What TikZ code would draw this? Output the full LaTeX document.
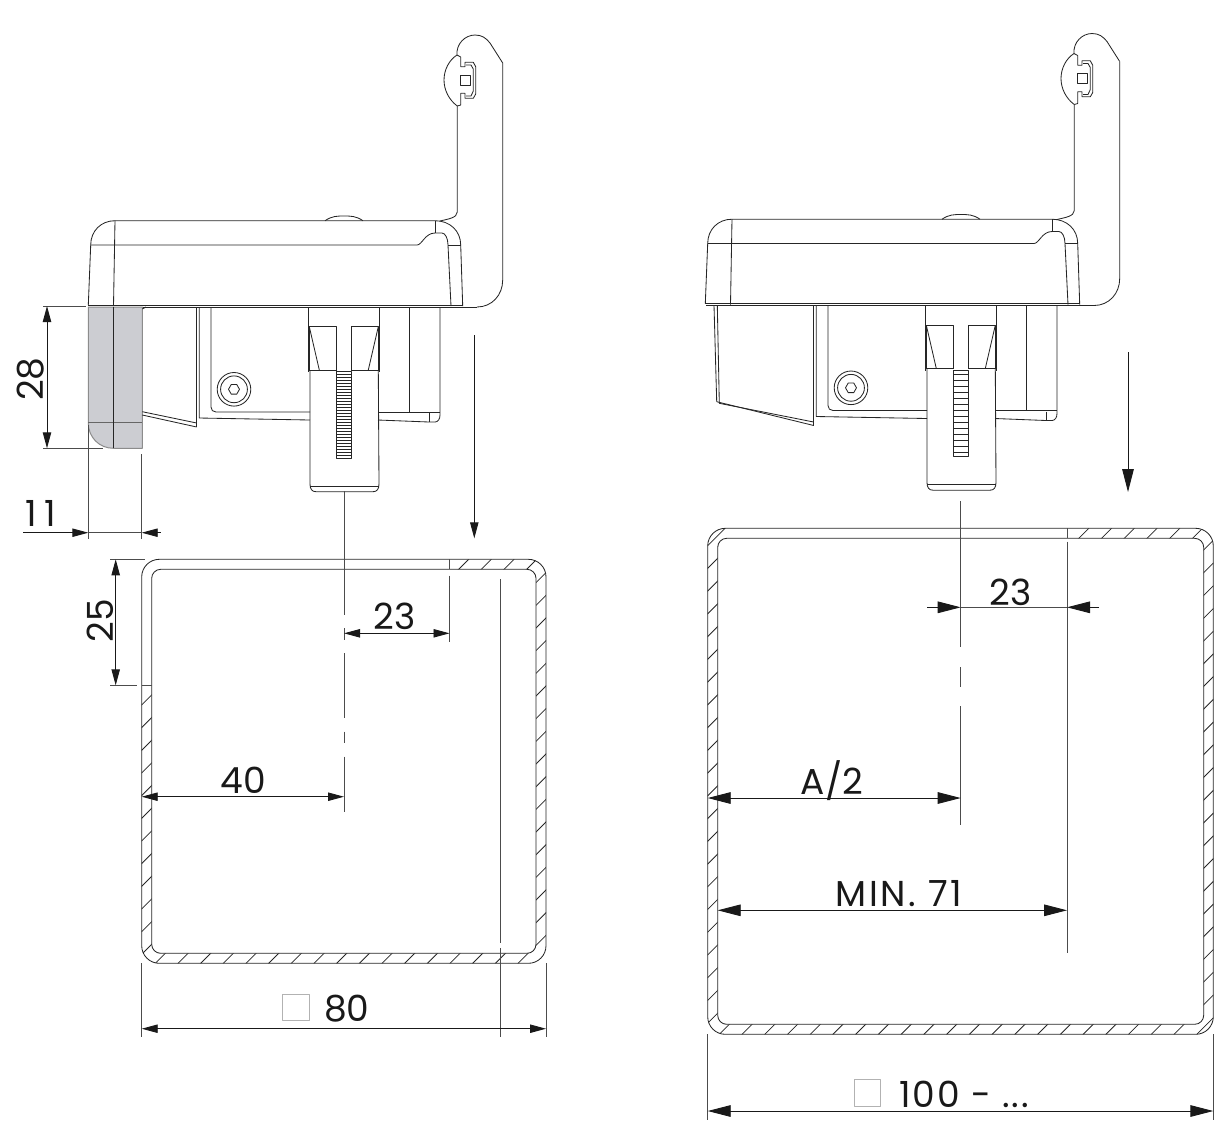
\documentclass[tikz,border=0pt]{standalone}
\usepackage{fontspec}
\setmainfont{Poppins}
\usetikzlibrary{arrows.meta}
\definecolor{latchgrey}{RGB}{204,205,210}

\begin{document}
\begin{tikzpicture}[
      x=0.5pt,
      y=-0.5pt,
      line join=round,
      part/.style={draw=black!85, line width=0.42pt},
      tube/.style={draw=black!85, line width=0.42pt},
      hatchline/.style={draw=black!85, line width=0.4pt},
      extline/.style={draw=black!70, line width=0.5pt},
      greybox/.style={fill=latchgrey, draw=black!45, line width=0.5pt},
      smalltip/.style={draw=black!90, line width=0.45pt, -{Triangle[length=8pt,width=4.2pt]}},
      bigtip/.style={draw=black!90, line width=0.45pt, -{Triangle[length=11.5pt,width=5.8pt]}},
      dimtext/.style={inner sep=0pt, anchor=base, font=\fontsize{18}{18}\selectfont, text=black!90},
      squaremark/.style={draw=black!30, line width=0.5pt},
      pics/latchunit/.style={code={
        % housing
        \draw[part] (88.3,305) -- (90.7,245) .. controls (90.7,231) and (101,220.7) .. (115,220.7) -- (435,220.7)
          .. controls (450,220.7) and (460.7,231) .. (460.7,245) -- (462.7,306);
        \draw[part] (88.3,305) -- (462.7,305);
        \draw[part] (89,307) -- (477,307);
        \draw[part] (115,220.7) -- (113.5,306);
        \draw[part] (90.7,245) -- (417,245) .. controls (422,245) and (425,233) .. (435,233) -- (442,233)
          .. controls (445,233) and (448,238) .. (448,245) -- (451,306);
        \draw[part] (448,245) -- (460.7,245);
        \draw[part] (435,220.7) -- (435,233);
        \draw[part] (325,220.7) .. controls (332,216) and (337,216) .. (344,216) .. controls (351,216) and (356,216) .. (363,220.7);
        % bracket and hook
        \draw[part] (440,221) .. controls (448,219) and (457,218) .. (457.3,212) -- (457.3,106);
        \draw[part] (502.7,63) -- (502.7,280) .. controls (502.7,295) and (492,307) .. (477,307);
        \draw[part] (457,55) .. controls (449,60) and (444,70) .. (444,80) .. controls (444,90) and (449,100) .. (457.3,106);
        \draw[part] (457,55) .. controls (456,44) and (465,35) .. (475,35) .. controls (482,35) and (486,38) .. (490,43) -- (502.7,63);
        \draw[part] (457,55) -- (460.7,57) -- (460.7,66.7) -- (465,66.7) -- (465,62.3) -- (473.3,62.3) -- (475.7,66.7)
          -- (475.7,94) -- (473.3,98.3) -- (465,98.3) -- (465,93.3) -- (460.7,93.3) -- (460.7,105) -- (457.3,106);
        \draw[part] (466,65) -- (471,65) -- (473.3,69) -- (473.3,91) -- (471,96) -- (466,96);
        \draw[part] (460.7,75) rectangle (470,85);
        % plate behind the clamp
        \draw[part] (196.7,307) -- (196.7,427);
        \draw[part] (199.3,307) -- (199.3,418) -- (310,420);
        \draw[part] (211,307) -- (211,407) .. controls (211,410) and (213,412) .. (216,412) -- (310,412);
        \draw[part] (378,412) -- (440,412);
        \draw[part] (378,420) -- (429,422) -- (435,422) .. controls (438,422) and (440,419) .. (440,415) -- (440,307);
        \draw[part] (409,307) -- (409,412);
        \draw[part] (429,413) -- (429,422);
        \draw[part] (234,389.3) circle[radius=8.4pt];
        \draw[part] (234,389.3) circle[radius=6.7pt];
        \draw[part] (239.5,389.3) -- (236.75,384.5) -- (231.25,384.5) -- (228.5,389.3) -- (231.25,394.1) -- (236.75,394.1) -- cycle;
        % clamp
        \draw[part] (308.3,307) -- (308.3,372);
        \draw[part] (379.3,307) -- (379.3,372);
        \draw[part] (309.3,370) -- (309.3,326.7) -- (336.7,326.7) -- (336.7,370);
        \draw[part] (351,370) -- (351,326.7) -- (378.3,326.7) -- (378.3,370);
        \draw[part] (309.3,326.7) -- (319.3,370);
        \draw[part] (378.3,326.7) -- (368.3,370);
        \draw[part] (308.3,370) -- (336.7,370);
        \draw[part] (351,370) -- (379.3,370);
        \draw[part] (310,370) -- (310,484) .. controls (310,489) and (312,491.7) .. (316,491.7) -- (373,491.7)
          .. controls (377,491.7) and (379,489) .. (379,484) -- (378.3,370);
        \draw[part] (310,486) -- (379,486);
        \draw[part] (336.7,371.7) rectangle (351,458.3);
        \foreach \ty in {#1} {
          \draw[part] (336.7,\ty) -- (351,\ty);
        }
      }}
    ]

  \useasboundingbox (0,0) rectangle (1216,1132);

  \pic at (0,0) {latchunit={374.7,377.7,...,458}};
  \pic at (617,-1.5) {latchunit={376,382,...,458}};

  % left unit: grey latch and flap
  \draw[greybox] (88.3,307) -- (142.3,307) -- (142.3,448.3) -- (113.5,448.3)
    .. controls (99,448.3) and (88.3,437) .. (88.3,423) -- cycle;
  \draw[greybox, draw=black!60] (88.3,422.7) -- (142.3,422.7);
  \draw[part] (113.5,307) -- (113.5,448.3);
  \draw[part] (142.3,309) -- (146,307);
  \draw[part] (142.3,411.7) -- (196.7,423);
  \draw[part] (142.3,415) -- (196.7,427);

  % right unit: open flap
  \draw[part] (714,305) -- (716.7,401.7) -- (813.7,425.5);
  \draw[part] (717.3,305) -- (719.3,403.3) -- (813.7,422);

  % left tube
  \begin{scope}
    \clip (130,685.3) -- (449.5,685.3) -- (449.5,550) -- (560,550) -- (560,975) -- (130,975) -- cycle;
    \begin{scope}[rounded corners=8.8pt]
      \clip (141.7,559.3) rectangle (546,963.3);
      \foreach \n in {0,...,29} {
        \draw[hatchline] ({846.6+22.67*\n-130},130) -- ({846.6+22.67*\n-1000},1000);
      }
    \end{scope}
  \end{scope}
  \fill[white, rounded corners=4.5pt] (151.7,569.3) rectangle (536,953.3);
  \draw[tube, rounded corners=8.8pt] (141.7,559.3) rectangle (546,963.3);
  \draw[tube, rounded corners=4.5pt] (151.7,569.3) rectangle (536,953.3);

  % right tube
  \begin{scope}
    \clip (700,520) -- (728,520) -- (728,550) -- (1067,550) -- (1067,520) -- (1225,520) -- (1225,1045) -- (700,1045) -- cycle;
    \begin{scope}[rounded corners=8.8pt]
      \clip (707.7,528.3) rectangle (1213.3,1034.3);
      \foreach \n in {0,...,45} {
        \draw[hatchline] ({1253.3+22.74*\n-500},500) -- ({1253.3+22.74*\n-1100},1100);
      }
    \end{scope}
  \end{scope}
  \fill[white, rounded corners=4.5pt] (717.7,538.3) rectangle (1203.7,1024.3);
  \draw[tube, rounded corners=8.8pt] (707.7,528.3) rectangle (1213.3,1034.3);
  \draw[tube, rounded corners=4.5pt] (717.7,538.3) rectangle (1203.7,1024.3);

  % left dimensions
  \draw[extline] (43,306) -- (86,306);
  \draw[extline] (43,448.3) -- (103,448.3);
  \draw[smalltip] (47,378) -- (47,306);
  \draw[smalltip] (47,378) -- (47,448.3);
  \node[dimtext, rotate=90] (dimtwentyeight) at (43,379) {28};

  \draw[extline] (88.3,425) -- (88.3,539);
  \draw[extline] (141.7,454) -- (141.7,539);
  \draw[smalltip] (23,532.7) -- (88.3,532.7);
  \draw[smalltip] (160.7,532.7) -- (141.7,532.7);
  \draw[extline] (88.3,532.7) -- (141.7,532.7);
  \node[dimtext] (dimeleven) at (41,526.7) {1\kern4pt 1};

  \draw[extline] (110,559.3) -- (145,559.3);
  \draw[extline] (110,685.3) -- (137,685.3);
  \draw[extline] (141.7,685.3) -- (151.7,685.3);
  \draw[smalltip] (115.7,622) -- (115.7,559.3);
  \draw[smalltip] (115.7,622) -- (115.7,685.3);
  \node[dimtext, rotate=90] (dimtwentyfive) at (113,621) {25};

  \draw[extline] (344,491) -- (344,615);
  \draw[extline] (344,628) -- (344,640);
  \draw[extline] (344,653) -- (344,718);
  \draw[extline] (344,731.7) -- (344,743);
  \draw[extline] (344,756.7) -- (344,811.7);
  \draw[extline] (449.5,559.3) -- (449.5,569.3);
  \draw[extline] (449.5,575.7) -- (449.5,641.7);
  \draw[smalltip] (397,633.3) -- (344,633.3);
  \draw[smalltip] (397,633.3) -- (449.5,633.3);
  \node[dimtext] (dimgapleft) at (394.5,629) {23};

  \draw[smalltip] (243,796.7) -- (141.7,796.7);
  \draw[smalltip] (243,796.7) -- (344,796.7);
  \node[dimtext] (dimforty) at (243,793) {40};

  \draw[extline] (500.7,579.3) -- (500.7,943);
  \draw[extline] (500.7,948) -- (500.7,1037);
  \draw[extline] (141.7,963.3) -- (141.7,1037);
  \draw[extline] (546,963.3) -- (546,1037);
  \draw[smalltip] (344,1028.7) -- (141.7,1028.7);
  \draw[smalltip] (344,1028.7) -- (546,1028.7);
  \draw[squaremark] (282.3,994.3) rectangle (309.3,1020);
  \node[dimtext] (dimeighty) at (346.7,1021.7) {80};

  \draw[smalltip] (474.3,335) -- (474.3,538.3);

  % right dimensions
  \draw[extline] (960.7,501) -- (960.7,647);
  \draw[extline] (960.7,667.3) -- (960.7,686.7);
  \draw[extline] (960.7,706) -- (960.7,825);
  \draw[extline] (1067,528.3) -- (1067,538.3);
  \draw[extline] (1067,541.7) -- (1067,953.3);
  \draw[bigtip] (927,607.3) -- (960.7,607.3);
  \draw[bigtip] (1099,607.3) -- (1067,607.3);
  \draw[extline] (960.7,607.3) -- (1067,607.3);
  \node[dimtext] (dimgapright) at (1010.5,605) {23};

  \draw[bigtip] (834,798) -- (707.7,798);
  \draw[bigtip] (834,798) -- (960.7,798);
  \node[dimtext] (dimhalf) at (832,794) {A/2};

  \draw[bigtip] (892,910.3) -- (717.7,910.3);
  \draw[bigtip] (892,910.3) -- (1067,910.3);
  \node[dimtext] (dimmin) at (899,906) {\addfontfeature{LetterSpace=7}MIN. 71};

  \draw[extline] (707.7,1034.3) -- (707.7,1120);
  \draw[extline] (1213.3,1034.3) -- (1213.3,1120);
  \draw[bigtip] (960,1111) -- (707.7,1111);
  \draw[bigtip] (960,1111) -- (1213.3,1111);
  \draw[squaremark] (854,1079) rectangle (880,1106);
  \node[dimtext] (dimhundred) at (964,1107) {\addfontfeature{LetterSpace=5}100 - ...};

  \draw[bigtip] (1128,352) -- (1128,492);

\end{tikzpicture}
\end{document}
